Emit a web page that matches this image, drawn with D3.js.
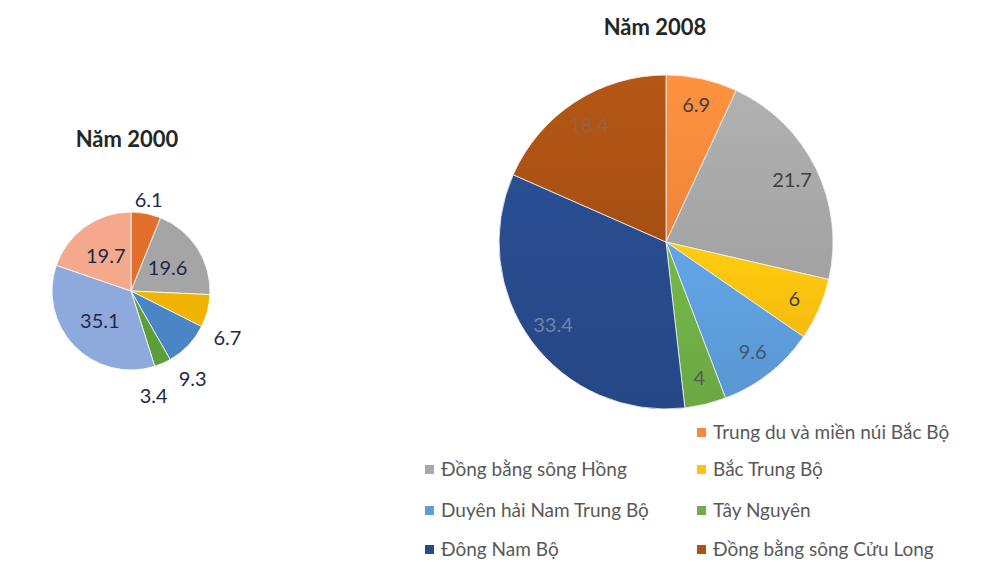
<!DOCTYPE html>
<meta charset="utf-8">
<style>
body { margin: 0; background: #fff; }
text { font-family: Lato, "Open Sans", sans-serif; }
.title { font-size: 22px; font-weight: bold; fill: #262626; text-anchor: middle; }
.lbl { font-size: 20px; text-anchor: middle; }
.legend text { font-size: 19px; fill: #595959; }
</style>
<svg width="993" height="562"></svg>
<script src="https://d3js.org/d3.v7.min.js"></script>
<script>

var regions = ["Trung du và miền núi Bắc Bộ", "Đồng bằng sông Hồng", "Bắc Trung Bộ",
  "Duyên hải Nam Trung Bộ", "Tây Nguyên", "Đông Nam Bộ", "Đồng bằng sông Cửu Long"];
var values2000 = [6.1, 19.6, 6.7, 9.3, 3.4, 35.1, 19.7];
var values2008 = [6.9, 21.7, 6, 9.6, 4, 33.4, 18.4];
var colors2000 = ["#e2702c", "#a5a5a5", "#f0b400", "#4a86c6", "#5c9e38", "#8eaadc", "#f4a98c"];
var colors2008 = ["#f58a3c", "#a8a8a8", "#ffc20e", "#5d9ddb", "#6fae45", "#274a8a", "#ac5214"];
var labelColors2008 = ["#404040", "#404040", "#404040", "#44546a", "#595959", "#6f82a8", "#9a6040"];

var svg = d3.select("svg");
var defs = svg.append("defs");

colors2008.forEach(function(c, i) {
  var g = defs.append("linearGradient").attr("id", "g" + i)
      .attr("x1", 0).attr("y1", 0).attr("x2", 0).attr("y2", 1);
  g.append("stop").attr("offset", "0%").attr("stop-color", d3.color(c).brighter(0.15));
  g.append("stop").attr("offset", "100%").attr("stop-color", d3.color(c).darker(0.1));
});

var pie = d3.pie().sort(null);

// --- Năm 2000 ---
var r1 = 79;
var p1 = svg.append("g").attr("transform", "translate(131,291)");
var arc1 = d3.arc().innerRadius(0).outerRadius(r1);
var arcs1 = pie(values2000);

p1.selectAll("path").data(arcs1).enter().append("path")
    .attr("d", arc1)
    .attr("fill", function(d, i) { return colors2000[i]; })
    .attr("stroke", "#fff").attr("stroke-width", 0.8);

// small slices get their labels outside, pushed a bit clockwise like Excel's best fit
var outsideTurn = 0.2; // radians
function labelPos1(d) {
  if (d.data > 15) {
    var c = d3.arc().innerRadius(r1 * 0.55).outerRadius(r1 * 0.55).centroid(d);
    return c;
  }
  var a = (d.startAngle + d.endAngle) / 2 + (d.data > 6.5 ? outsideTurn : d.data < 4 ? outsideTurn : 0);
  var rr = r1 * (d.data > 6.5 || d.data < 4 ? 1.36 : 1.17);
  return [Math.sin(a) * rr, -Math.cos(a) * rr];
}
p1.selectAll("text").data(arcs1).enter().append("text")
    .attr("class", "lbl")
    .attr("dy", "0.35em")
    .attr("fill", "#1c2a48")
    .attr("transform", function(d) { return "translate(" + labelPos1(d) + ")"; })
    .text(function(d) { return d.data; });

svg.append("text").attr("class", "title").attr("x", 127).attr("y", 147).text("Năm 2000");

// --- Năm 2008 ---
var r2 = 167;
var p2 = svg.append("g").attr("transform", "translate(666,242)");
var arc2 = d3.arc().innerRadius(0).outerRadius(r2);
var arcs2 = pie(values2008);

p2.selectAll("path").data(arcs2).enter().append("path")
    .attr("d", arc2)
    .attr("fill", function(d, i) { return "url(#g" + i + ")"; })
    .attr("stroke", "#f4f4f4").attr("stroke-width", 0.8);

var lab2 = d3.arc().innerRadius(r2 * 0.84).outerRadius(r2 * 0.84);
p2.selectAll("text").data(arcs2).enter().append("text")
    .attr("class", "lbl")
    .attr("dy", "0.35em")
    .attr("fill", function(d, i) { return labelColors2008[i]; })
    .attr("transform", function(d) { return "translate(" + lab2.centroid(d) + ")"; })
    .text(function(d) { return d.data; });

svg.append("text").attr("class", "title").attr("x", 655).attr("y", 35).text("Năm 2008");

// --- legend (Excel-style wrap, first item alone in right column) ---
var slots = [[1, 0], [0, 1], [1, 1], [0, 2], [1, 2], [0, 3], [1, 3]];
var colX = [425, 697], rowY = [432, 469, 510, 549];
var leg = svg.append("g").attr("class", "legend");
var item = leg.selectAll("g").data(regions).enter().append("g")
    .attr("transform", function(d, i) {
      return "translate(" + colX[slots[i][0]] + "," + rowY[slots[i][1]] + ")";
    });
item.append("rect").attr("x", 0).attr("y", -4).attr("width", 9).attr("height", 9)
    .attr("fill", function(d, i) { return colors2008[i]; });
item.append("text").attr("x", 16).attr("dy", "0.35em").text(function(d) { return d; });

</script>
